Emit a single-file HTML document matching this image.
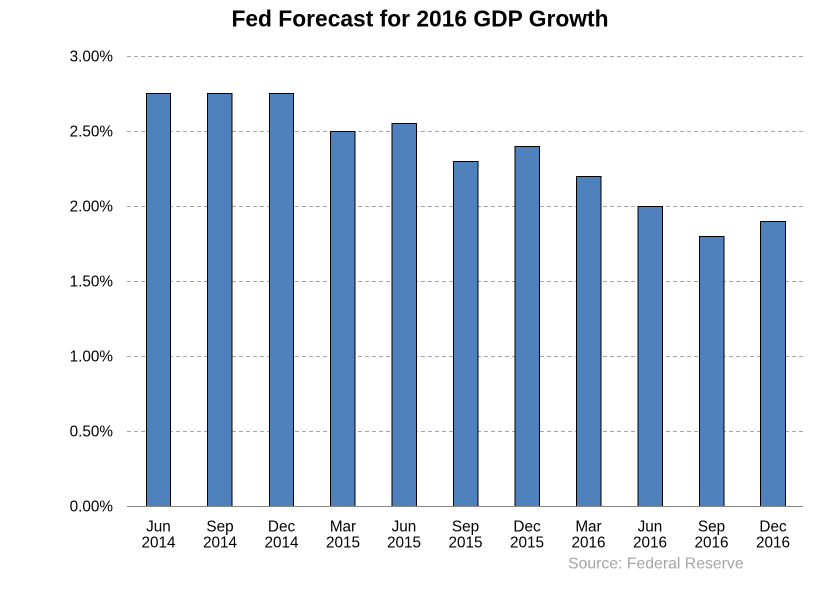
<!DOCTYPE html>
<html>
<head>
<meta charset="utf-8">
<style>
html,body{margin:0;padding:0;background:#fff;}
svg{display:block;}
text{font-family:"Liberation Sans",Arial,sans-serif;}
</style>
</head>
<body>
<svg width="839" height="589" viewBox="0 0 839 589" xmlns="http://www.w3.org/2000/svg">
<rect width="839" height="589" fill="#fff"/>
<text x="420" y="26.5" text-anchor="middle" font-size="22.8" font-weight="bold" fill="#000">Fed Forecast for 2016 GDP Growth</text>
<g stroke="#a6a6a6" stroke-width="1" stroke-dasharray="4,3">
<line x1="127" y1="56.5" x2="803" y2="56.5"/>
<line x1="127" y1="131.5" x2="803" y2="131.5"/>
<line x1="127" y1="206.5" x2="803" y2="206.5"/>
<line x1="127" y1="281.5" x2="803" y2="281.5"/>
<line x1="127" y1="356.5" x2="803" y2="356.5"/>
<line x1="127" y1="431.5" x2="803" y2="431.5"/>
</g>
<g font-size="15.3" fill="#000" text-anchor="end">
<text x="113" y="61.5">3.00%</text>
<text x="113" y="136.5">2.50%</text>
<text x="113" y="211.5">2.00%</text>
<text x="113" y="286.5">1.50%</text>
<text x="113" y="361.5">1.00%</text>
<text x="113" y="436.5">0.50%</text>
<text x="113" y="511.5">0.00%</text>
</g>
<g fill="#4f81bd" stroke="#000" stroke-width="1">
<rect x="146.5" y="93.5" width="24" height="413"/>
<rect x="207.5" y="93.5" width="24.5" height="413"/>
<rect x="269.5" y="93.5" width="24" height="413"/>
<rect x="330.5" y="131.5" width="24.5" height="375"/>
<rect x="392" y="123.5" width="24.5" height="383"/>
<rect x="453.5" y="161.5" width="24.5" height="345"/>
<rect x="515" y="146.5" width="24.5" height="360"/>
<rect x="576.5" y="176.5" width="24.5" height="330"/>
<rect x="638" y="206.5" width="24.5" height="300"/>
<rect x="699.5" y="236.5" width="24.5" height="270"/>
<rect x="760.5" y="221.5" width="25" height="285"/>
</g>
<line x1="127" y1="506.5" x2="803" y2="506.5" stroke="#868686" stroke-width="1"/>
<g font-size="15.3" fill="#000" text-anchor="middle">
<text x="158.5" y="531.5">Jun</text><text x="158.5" y="547.5">2014</text>
<text x="220" y="531.5">Sep</text><text x="220" y="547.5">2014</text>
<text x="281.5" y="531.5">Dec</text><text x="281.5" y="547.5">2014</text>
<text x="343" y="531.5">Mar</text><text x="343" y="547.5">2015</text>
<text x="404" y="531.5">Jun</text><text x="404" y="547.5">2015</text>
<text x="465.5" y="531.5">Sep</text><text x="465.5" y="547.5">2015</text>
<text x="527" y="531.5">Dec</text><text x="527" y="547.5">2015</text>
<text x="588.5" y="531.5">Mar</text><text x="588.5" y="547.5">2016</text>
<text x="650" y="531.5">Jun</text><text x="650" y="547.5">2016</text>
<text x="711.5" y="531.5">Sep</text><text x="711.5" y="547.5">2016</text>
<text x="773" y="531.5">Dec</text><text x="773" y="547.5">2016</text>
</g>
<text x="568" y="568.5" font-size="15.8" fill="#a6a6a6">Source: Federal Reserve</text>
</svg>
</body>
</html>
